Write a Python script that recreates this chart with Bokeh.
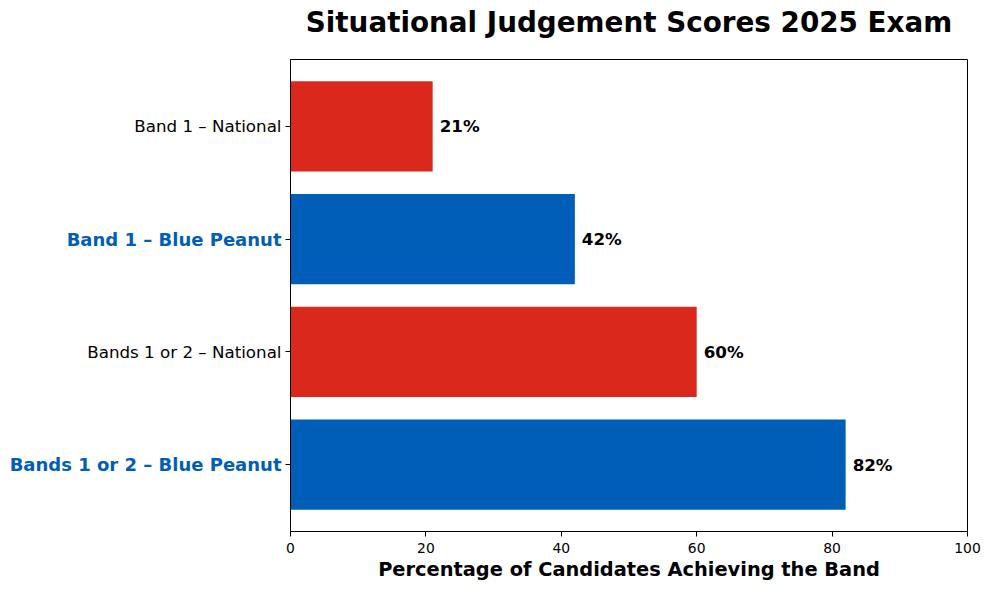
from bokeh.plotting import figure
from bokeh.models import ColumnDataSource, LabelSet, FixedTicker, Range1d
from bokeh.layouts import column, row
from bokeh.core.properties import value
from bokeh.embed import file_html
from bokeh.resources import INLINE

title_text = "Situational Judgement Scores 2025 Exam"
categories = ["Bands 1 or 2 – Blue Peanut", "Bands 1 or 2 – National",
              "Band 1 – Blue Peanut", "Band 1 – National"]
values = [82, 60, 42, 21]
groups = ["Blue Peanut", "National", "Blue Peanut", "National"]
x_ticks = [0, 20, 40, 60, 80, 100]

BLUE = "#005EB8"
RED = "#DA291C"
FONT = value("DejaVu Sans")

positions = list(range(len(categories)))
bar_colors = [BLUE if g == "Blue Peanut" else RED for g in groups]
value_texts = [f"{v}%" for v in values]

src = ColumnDataSource(dict(y=positions, v=values, c=bar_colors, t=value_texts))
yr = Range1d(-0.594, 3.594)

# ---------------- title strip ----------------
TW = 981
tfig = figure(width=TW, height=59, x_range=Range1d(0, TW), y_range=Range1d(0, 59),
              x_axis_location=None, y_axis_location=None, toolbar_location=None,
              output_backend="svg", min_border=0)
tfig.outline_line_color = None
tfig.grid.visible = False
tfig.text(x=[628.5], y=[37], text=[title_text], text_align="center",
          text_baseline="alphabetic", text_font=FONT, text_font_size="27.8px",
          text_font_style="bold", text_color="black")

# ---------------- category labels ----------------
lfig = figure(frame_width=285, frame_height=472, x_range=Range1d(0, 1), y_range=yr,
              x_axis_location=None, y_axis_location=None, toolbar_location=None,
              output_backend="svg", min_border=0)
lfig.outline_line_color = None
lfig.grid.visible = False
nat_idx = [i for i, g in enumerate(groups) if g == "National"]
bp_idx = [i for i, g in enumerate(groups) if g == "Blue Peanut"]
src_nat = ColumnDataSource(dict(y=[positions[i] for i in nat_idx], x=[1] * len(nat_idx),
                                t=[categories[i] for i in nat_idx]))
src_bp = ColumnDataSource(dict(y=[positions[i] for i in bp_idx], x=[1] * len(bp_idx),
                               t=[categories[i] for i in bp_idx]))
lfig.text(x="x", y="y", text="t", source=src_nat, x_offset=-4, text_align="right",
          text_baseline="middle", text_font=FONT, text_font_size="16.7px",
          text_color="black")
lfig.text(x="x", y="y", text="t", source=src_bp, x_offset=-4, text_align="right",
          text_baseline="middle", text_font=FONT, text_font_size="18px",
          text_font_style="bold", text_color=BLUE)

# ---------------- main chart ----------------
p = figure(frame_width=677, frame_height=472, output_backend="svg", toolbar_location=None,
           x_range=Range1d(0, 100), y_range=yr,
           min_border_left=0, min_border_right=14, min_border_top=0, min_border_bottom=0)

p.hbar(y="y", right="v", left=0, height=0.8, color="c", source=src, line_color=None)

p.add_layout(LabelSet(x="v", y="y", text="t", source=src, x_offset=7,
                      text_baseline="middle", text_align="left",
                      text_font=FONT, text_font_size="16.7px", text_font_style="bold",
                      text_color="black"))

p.xgrid.visible = False
p.ygrid.visible = False
p.outline_line_color = "black"
p.outline_line_width = 1

xa = p.xaxis[0]
xa.ticker = FixedTicker(ticks=x_ticks)
xa.minor_tick_line_color = None
xa.major_tick_out = 5
xa.major_tick_in = 0
xa.axis_line_color = "black"
xa.major_tick_line_color = "black"
xa.major_label_text_font = "DejaVu Sans"
xa.major_label_text_font_size = "13.9px"
xa.major_label_text_color = "black"
xa.major_label_standoff = 6
xa.axis_label = "Percentage of Candidates Achieving the Band"
xa.axis_label_text_font = "DejaVu Sans"
xa.axis_label_text_font_size = "19.4px"
xa.axis_label_text_font_style = "bold"
xa.axis_label_text_color = "black"
xa.axis_label_standoff = 2

ya = p.yaxis[0]
ya.ticker = FixedTicker(ticks=positions)
ya.major_label_overrides = {i: "" for i in positions}
ya.major_label_text_font_size = "0px"
ya.major_label_standoff = 0
ya.minor_tick_line_color = None
ya.major_tick_out = 5
ya.major_tick_in = 0
ya.axis_line_color = "black"
ya.major_tick_line_color = "black"

layout = column(tfig, row(lfig, p, spacing=0), spacing=0)

open("out.html", "w").write(file_html(layout, INLINE))
